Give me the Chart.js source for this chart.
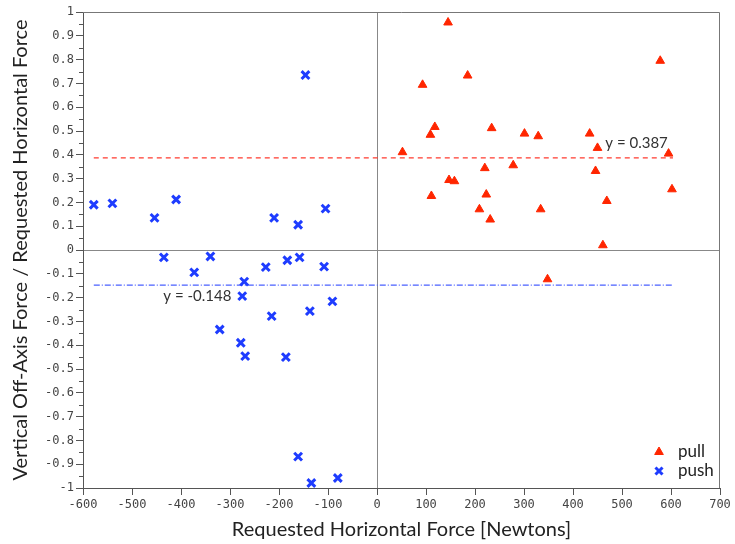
<!DOCTYPE html>
<html>
<head>
<meta charset="utf-8">
<script src="https://cdn.jsdelivr.net/npm/chart.js@4/dist/chart.umd.min.js"></script>
<style>
  html, body { margin: 0; padding: 0; background: #fff; }
  #wrap { width: 735px; height: 544px; }
</style>
</head>
<body>
<div id="wrap"><canvas id="chart"></canvas></div>
<script>
// pull: requested horizontal force (N) and vertical/horizontal ratio
const pullX = [145, 578, 185, 93, 118, 109, 234, 301, 329, 434, 450, 595, 52, 220, 278, 446,
               147, 158, 602, 111, 223, 469, 209, 334, 231, 461, 348];
const pullY = [0.956, 0.795, 0.733, 0.694, 0.517, 0.484, 0.512, 0.489, 0.478, 0.489, 0.429, 0.405, 0.411, 0.344, 0.356, 0.332,
               0.294, 0.289, 0.255, 0.227, 0.233, 0.206, 0.171, 0.171, 0.128, 0.020, -0.123];

// push
const pushX = [-578, -540, -454, -410, -146, -210, -161, -105, -435, -373, -340, -271, -275, -321,
               -278, -269, -227, -183, -158, -108, -215, -137, -91, -186, -161, -134, -80];
const pushY = [0.190, 0.196, 0.135, 0.212, 0.735, 0.135, 0.106, 0.174, -0.031, -0.094, -0.027, -0.133, -0.194, -0.334,
               -0.390, -0.446, -0.072, -0.043, -0.031, -0.070, -0.278, -0.257, -0.216, -0.450, -0.868, -0.979, -0.958];

// mean lines
const pullMean = 0.387;
const pushMean = -0.148;
const meanLineX = [-578, 604];

const xTickMin = -600, xTickMax = 700, xStep = 100;
const yTickMin = -1, yTickMax = 1, yStep = 0.05;

const RED = '#ff2600';
const BLUE = '#1e3cff';

function toPoints(xs, ys) {
    return xs.map(function(x, i) { return { x: x, y: ys[i] }; });
}

function isMajorY(v) {
    return Math.abs(Math.round(v * 20)) % 2 === 0;
}

function fmtY(v) {
    const r = Math.round(v * 10) / 10;
    return r === 0 ? '0' : String(r);
}

// frame, minor ticks, mean labels and legend
const extras = {
    id: 'extras',
    afterDraw: function(chart) {
        const ctx = chart.ctx;
        const a = chart.chartArea;
        const xs = chart.scales.x, ys = chart.scales.y;
        ctx.save();
        // top + right border
        ctx.strokeStyle = '#777';
        ctx.lineWidth = 1;
        ctx.beginPath();
        ctx.moveTo(a.left, a.top + 0.5);
        ctx.lineTo(a.right - 0.5, a.top + 0.5);
        ctx.lineTo(a.right - 0.5, a.bottom);
        ctx.stroke();
        // minor y ticks
        ctx.strokeStyle = '#555';
        ys.ticks.forEach(function(t) {
            if (isMajorY(t.value)) return;
            const py = Math.round(ys.getPixelForValue(t.value)) + 0.5;
            ctx.beginPath();
            ctx.moveTo(a.left - 4, py);
            ctx.lineTo(a.left, py);
            ctx.stroke();
        });
        // mean labels
        ctx.fillStyle = '#333';
        ctx.font = '15px Lato';
        ctx.textBaseline = 'middle';
        ctx.textAlign = 'left';
        ctx.fillText('y = ' + pullMean, xs.getPixelForValue(466), ys.getPixelForValue(0.451));
        ctx.fillText('y = ' + pushMean, xs.getPixelForValue(-436), ys.getPixelForValue(-0.196));
        // legend
        const lx = a.right - 61;
        const items = [
            { label: 'pull', style: 'triangle', color: RED, bw: 1, y: a.bottom - 36 },
            { label: 'push', style: 'crossRot', color: BLUE, bw: 3, y: a.bottom - 17 }
        ];
        items.forEach(function(it) {
            ctx.fillStyle = it.color;
            ctx.strokeStyle = it.color;
            ctx.lineWidth = it.bw;
            Chart.helpers.drawPoint(ctx, { pointStyle: it.style, radius: 5, rotation: 0, borderWidth: it.bw }, lx, it.y);
            ctx.fillStyle = '#222';
            ctx.font = '17px Lato';
            ctx.fillText(it.label, lx + 19, it.y);
        });
        ctx.restore();
    }
};

const ctx = document.getElementById('chart').getContext('2d');

new Chart(ctx, {
    type: 'scatter',
    data: {
        datasets: [
            {
                label: 'pull',
                data: toPoints(pullX, pullY),
                pointStyle: 'triangle',
                pointRadius: 5,
                backgroundColor: RED,
                borderColor: RED,
                borderWidth: 1
            },
            {
                label: 'push',
                data: toPoints(pushX, pushY),
                pointStyle: 'crossRot',
                pointRadius: 5.5,
                backgroundColor: BLUE,
                borderColor: BLUE,
                borderWidth: 3
            },
            {
                label: 'pull mean',
                data: meanLineX.map(function(x) { return { x: x, y: pullMean }; }),
                showLine: true,
                pointRadius: 0,
                borderColor: '#ff3b2f',
                borderWidth: 1.2,
                borderDash: [5, 4]
            },
            {
                label: 'push mean',
                data: meanLineX.map(function(x) { return { x: x, y: pushMean }; }),
                showLine: true,
                pointRadius: 0,
                borderColor: '#4a60ff',
                borderWidth: 1.2,
                borderDash: [6, 2, 1, 2]
            }
        ]
    },
    options: {
        responsive: true,
        maintainAspectRatio: false,
        animation: false,
        layout: { padding: { left: 0, top: 12, right: 15, bottom: 0 } },
        plugins: {
            legend: { display: false },
            tooltip: { enabled: false }
        },
        scales: {
            x: {
                type: 'linear',
                min: xTickMin,
                max: xTickMax,
                afterFit: function(scale) { scale.height = 56; },
                ticks: {
                    stepSize: xStep,
                    padding: 3,
                    color: '#444',
                    font: { family: 'DejaVu Sans Mono', size: 12 }
                },
                grid: {
                    color: function(c) { return c.tick && c.tick.value === 0 ? '#888' : 'transparent'; },
                    tickColor: '#555',
                    tickLength: 7
                },
                border: { color: '#555', width: 1 },
                title: {
                    display: true,
                    text: 'Requested Horizontal Force [Newtons]',
                    color: '#222',
                    font: { family: 'Lato', size: 20 },
                    padding: { top: 0, bottom: 2 }
                }
            },
            y: {
                type: 'linear',
                min: yTickMin,
                max: yTickMax,
                afterFit: function(scale) { scale.width = 83; },
                ticks: {
                    stepSize: yStep,
                    autoSkip: false,
                    padding: 2,
                    color: '#444',
                    font: { family: 'DejaVu Sans Mono', size: 12 },
                    callback: function(v) { return isMajorY(v) ? fmtY(v) : ''; }
                },
                grid: {
                    color: function(c) { return c.tick && Math.abs(c.tick.value) < 1e-9 ? '#888' : 'transparent'; },
                    tickColor: function(c) { return c.tick && isMajorY(c.tick.value) ? '#555' : 'transparent'; },
                    tickLength: 7
                },
                border: { color: '#555', width: 1 },
                title: {
                    display: true,
                    text: 'Vertical Off-Axis Force / Requested Horizontal Force',
                    color: '#222',
                    font: { family: 'Lato', size: 20 },
                    padding: { top: 9, bottom: 0 }
                }
            }
        }
    },
    plugins: [extras]
});
</script>
</body>
</html>
